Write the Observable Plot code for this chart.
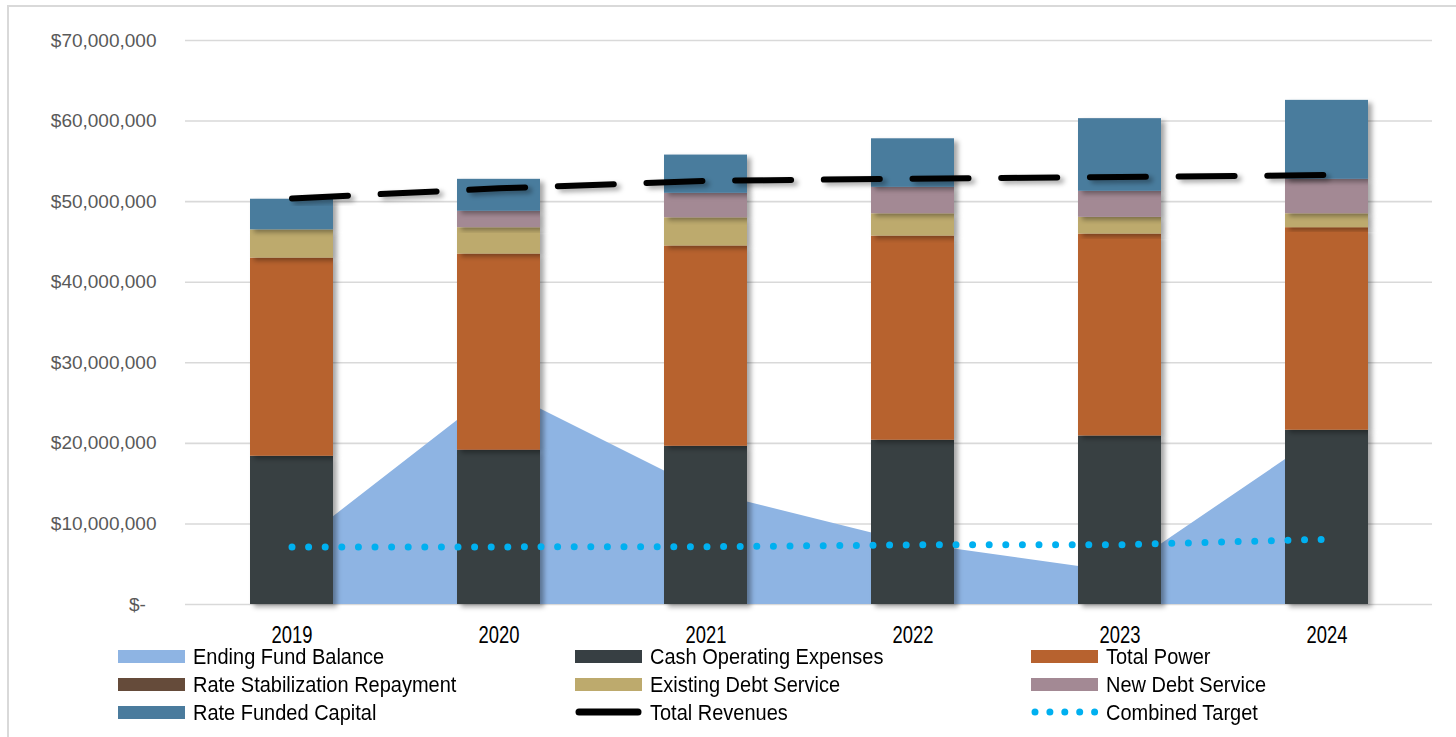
<!DOCTYPE html>
<html>
<head>
<meta charset="utf-8">
<script src="https://cdn.jsdelivr.net/npm/d3@7"></script>
<script src="https://cdn.jsdelivr.net/npm/@observablehq/plot@0.6"></script>
<style>
  html, body { margin: 0; padding: 0; background: #fff; }
  body { width: 1456px; height: 737px; position: relative; overflow: hidden; }
  #frame { position: absolute; left: 7px; top: 5px; width: 1500px; height: 800px;
           border-left: 2px solid #d9d9d9; border-top: 2px solid #d9d9d9; }
  #chart { position: absolute; left: 0; top: 0; }
  #legend { position: absolute; left: 0; top: 0; width: 1456px; height: 737px; pointer-events: none;
            font-family: "Liberation Sans", Arial, sans-serif; font-size: 21.5px; color: #000; }
  .sw { position: absolute; }
  .lab { position: absolute; line-height: 1; white-space: nowrap; transform: scaleX(0.93); transform-origin: 0 50%; }
</style>
</head>
<body>
<div id="frame"></div>
<div id="chart"></div>
<div id="legend"></div>
<script>
// ---- data ----
const years = ["2019", "2020", "2021", "2022", "2023", "2024"];
const endingFundBalance = [6900000, 26850000, 14000000, 7600000, 4000000, 21500000];
const cashOperatingExpenses = [18400000, 19140000, 19640000, 20390000, 20920000, 21630000];
const totalPower = [24600000, 24360000, 24860000, 25340000, 25060000, 25140000];
const rateStabilizationRepayment = [0, 0, 0, 0, 0, 0];
const existingDebtService = [3500000, 3270000, 3500000, 2770000, 2070000, 1730000];
const newDebtService = [0, 2030000, 3030000, 3270000, 3230000, 4270000];
const rateFundedCapital = [3800000, 3970000, 4750000, 6030000, 9020000, 9800000];
const totalRevenues = [50400000, 51650000, 52580000, 52850000, 53050000, 53300000];
const combinedTarget = [7150000, 7150000, 7170000, 7400000, 7420000, 8100000];
const yTicks = [0, 10000000, 20000000, 30000000, 40000000, 50000000, 60000000, 70000000];

const seriesNames = ["Ending Fund Balance", "Cash Operating Expenses", "Total Power",
  "Rate Stabilization Repayment", "Existing Debt Service", "New Debt Service",
  "Rate Funded Capital", "Total Revenues", "Combined Target"];
const seriesColors = ["#8eb4e3", "#373f43", "#b7622f", "#654b3a", "#bdaa6d", "#a38994",
  "#4a7b9d", "#000000", "#00b0f0"];

// ---- tables built from the arrays ----
const stackSeries = [
  ["Cash Operating Expenses", cashOperatingExpenses],
  ["Total Power", totalPower],
  ["Rate Stabilization Repayment", rateStabilizationRepayment],
  ["Existing Debt Service", existingDebtService],
  ["New Debt Service", newDebtService],
  ["Rate Funded Capital", rateFundedCapital]
];
const barData = [];
years.forEach((yr, i) => stackSeries.forEach(([name, vals]) => barData.push({year: yr, series: name, value: vals[i]})));
const areaData = years.map((yr, i) => ({year: yr, value: endingFundBalance[i]}));
const revData = years.map((yr, i) => ({year: yr, value: totalRevenues[i]}));
const targetData = years.map((yr, i) => ({year: yr, value: combinedTarget[i]}));

const fmt = d => d === 0 ? "$-\u00a0\u00a0" : "$" + d3.format(",")(d);

const chart = Plot.plot({
  width: 1456,
  height: 650,
  marginLeft: 185,
  marginRight: 24,
  marginTop: 40,
  marginBottom: 46,
  style: {fontFamily: "'Liberation Sans', Arial, sans-serif", background: "transparent", overflow: "visible"},
  x: {domain: years, paddingInner: 0.6, paddingOuter: 0.3},
  y: {domain: [0, 70000000]},
  color: {domain: seriesNames, range: seriesColors},
  marks: [
    Plot.ruleY(yTicks, {stroke: "#d9d9d9", strokeWidth: 1.6}),
    Plot.areaY(areaData, {x: "year", y: "value", fill: "#8eb4e3", curve: "linear"}),
    Plot.barY(barData, {x: "year", y: "value", fill: "series"}),
    Plot.lineY(revData, {x: "year", y: "value", stroke: "#000", strokeWidth: 6,
      strokeDasharray: "56,32.7", strokeLinecap: "round"}),
    Plot.lineY(targetData, {x: "year", y: "value", stroke: "#00b0f0", strokeWidth: 7,
      strokeDasharray: "0,16.6", strokeLinecap: "round"}),
    Plot.axisY({ticks: yTicks, tickSize: 0, tickPadding: 29, tickFormat: fmt, label: null}),
    Plot.axisX({tickSize: 0, tickPadding: 22, label: null})
  ]
});
document.getElementById("chart").appendChild(chart);

// drop shadow like the original
const svg = d3.select(chart);
const defs = svg.insert("defs", ":first-child");
const f = defs.append("filter").attr("id", "shadow").attr("x", "-20%").attr("y", "-20%").attr("width", "150%").attr("height", "150%");
f.append("feDropShadow").attr("dx", 4).attr("dy", 3).attr("stdDeviation", 2.5)
  .attr("flood-color", "#000").attr("flood-opacity", 0.35);
svg.selectAll("g[aria-label='bar'] rect").attr("filter", "url(#shadow)");
svg.selectAll("g[aria-label='line']").filter((d, i) => i === 0).attr("filter", "url(#shadow)");

svg.selectAll("g[aria-label='y-axis tick label']").attr("fill", "#595959");
svg.selectAll("g[aria-label='y-axis tick label'] text")
  .style("font-size", "19px").style("font-family", "'Liberation Sans', Arial, sans-serif");

// x labels: condensed look (narrow face is not installed)
const sx = 0.8;
svg.selectAll("g[aria-label='x-axis tick label']").attr("fill", "#000");
svg.selectAll("g[aria-label='x-axis tick label'] text").each(function() {
  const t = d3.select(this);
  t.style("font-size", "23px");
  const tr = t.attr("transform");
  const x = t.attr("x");
  if (x != null) t.attr("x", +x / sx);
  t.attr("transform", (tr ? tr + " " : "") + `scale(${sx},1)`);
});

// ---- legend ----
const legend = document.getElementById("legend");
const colX = [118, 575, 1031];
const swY = [656.3, 684.2, 712.3];
const txY = [657.5, 686, 714];
seriesNames.forEach((name, i) => {
  const col = i % 3, row = Math.floor(i / 3);
  const c = seriesColors[i];
  const sw = document.createElement("div");
  sw.className = "sw";
  sw.style.left = colX[col] + "px";
  sw.style.top = (swY[row] - 7) + "px";
  if (name === "Total Revenues") {
    sw.innerHTML = `<svg width="67" height="14" style="display:block"><line x1="4" y1="7" x2="63" y2="7" stroke="${c}" stroke-width="7" stroke-linecap="round"/></svg>`;
  } else if (name === "Combined Target") {
    sw.innerHTML = `<svg width="70" height="14" style="display:block"><line x1="4" y1="7" x2="65" y2="7" stroke="${c}" stroke-width="7" stroke-linecap="round" stroke-dasharray="0,14.9"/></svg>`;
  } else {
    sw.style.top = (swY[row] - 6.3) + "px";
    sw.innerHTML = `<svg width="67" height="13" style="display:block"><rect width="67" height="13" fill="${c}"/></svg>`;
  }
  legend.appendChild(sw);
  const lab = document.createElement("div");
  lab.className = "lab";
  lab.textContent = name;
  lab.style.left = (colX[col] + 75) + "px";
  lab.style.top = (txY[row] - 10.75) + "px";
  legend.appendChild(lab);
});
</script>
</body>
</html>
